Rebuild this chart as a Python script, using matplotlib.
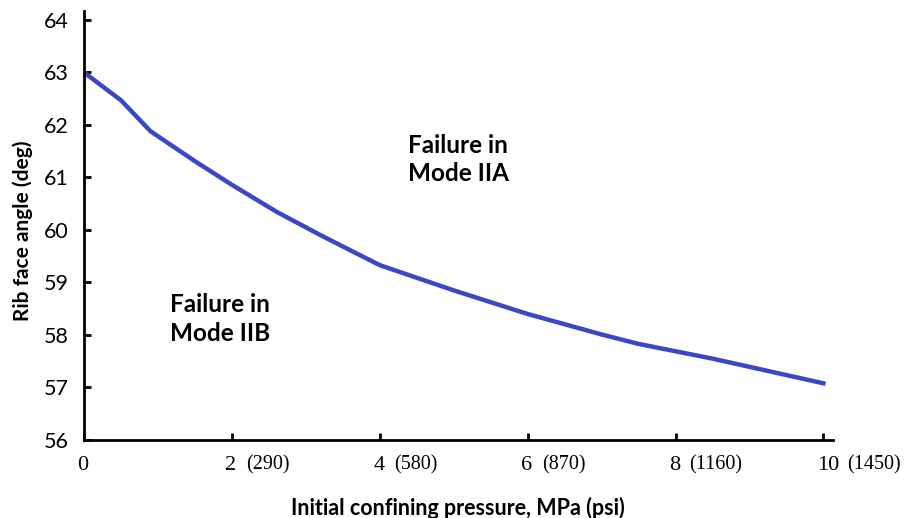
import matplotlib
matplotlib.use("Agg")
import matplotlib.pyplot as plt

# Rib face angle vs. initial confining pressure
pressure_mpa = [0, 0.5, 0.9, 1.5, 2.0, 2.6, 3.2, 4.0, 5.0, 6.0, 7.0, 7.5, 8.5, 10.0]
rib_angle = [63.0, 62.47, 61.88, 61.31, 60.86, 60.35, 59.9, 59.33, 58.85, 58.4,
             58.01, 57.83, 57.55, 57.08]

x_ticks = [0, 2, 4, 6, 8, 10]
psi_labels = ["", "(290)", "(580)", "(870)", "(1160)", "(1450)"]
y_ticks = [56, 57, 58, 59, 60, 61, 62, 63, 64]

sans = "Lato"
serif = "Liberation Serif"

fig = plt.figure(figsize=(9.09, 5.18), dpi=100)
ax = fig.add_axes([84 / 909, 1 - 440 / 518, (833 - 84) / 909, (440 - 11) / 518])

ax.plot(pressure_mpa, rib_angle, color="#3B47C4", lw=3.2, solid_joinstyle="round")

ax.set_xlim(0, 10.13)
ax.set_ylim(56, 64.17)
for side in ("top", "right"):
    ax.spines[side].set_visible(False)
for side in ("left", "bottom"):
    ax.spines[side].set_linewidth(2.0)
    ax.spines[side].set_color("black")

ax.set_yticks(y_ticks)
ax.set_yticklabels([str(v) for v in y_ticks], fontfamily=sans, fontsize=15.5)
ax.tick_params(axis="y", direction="in", length=5, width=2, pad=11)

ax.set_xticks(x_ticks)
ax.set_xticklabels([])
ax.tick_params(axis="x", direction="in", length=5, width=2)

# MPa values with psi equivalents in parentheses
for t, psi in zip(x_ticks, psi_labels):
    ax.annotate(str(t), xy=(t, 0), xycoords=("data", "axes fraction"),
                xytext=(-1 if t < 10 else 5, -25), textcoords="offset pixels",
                ha="center", va="center", fontfamily=serif, fontsize=16)
    if psi:
        ax.annotate(psi, xy=(t, 0), xycoords=("data", "axes fraction"),
                    xytext=(14 if t < 10 else 24, -25), textcoords="offset pixels",
                    ha="left", va="center", fontfamily=serif, fontsize=14.5)

fig.text(458 / 909, 1 - 508 / 518, "Initial confining pressure, MPa (psi)",
         ha="center", va="center", fontfamily=sans, fontweight="bold", fontsize=15.5)
fig.text(23 / 909, 1 - 231 / 518, "Rib face angle (deg)", rotation=90,
         ha="center", va="center", fontfamily=sans, fontweight="bold", fontsize=15)

ax.text(4.38, 61.34, "Failure in\nMode IIA", ha="left", va="center",
        fontfamily=sans, fontweight="bold", fontsize=17.5, linespacing=1.3)
ax.text(1.16, 58.30, "Failure in\nMode IIB", ha="left", va="center",
        fontfamily=sans, fontweight="bold", fontsize=17.5, linespacing=1.3)

fig.savefig("out.png", dpi=100, facecolor="white")
